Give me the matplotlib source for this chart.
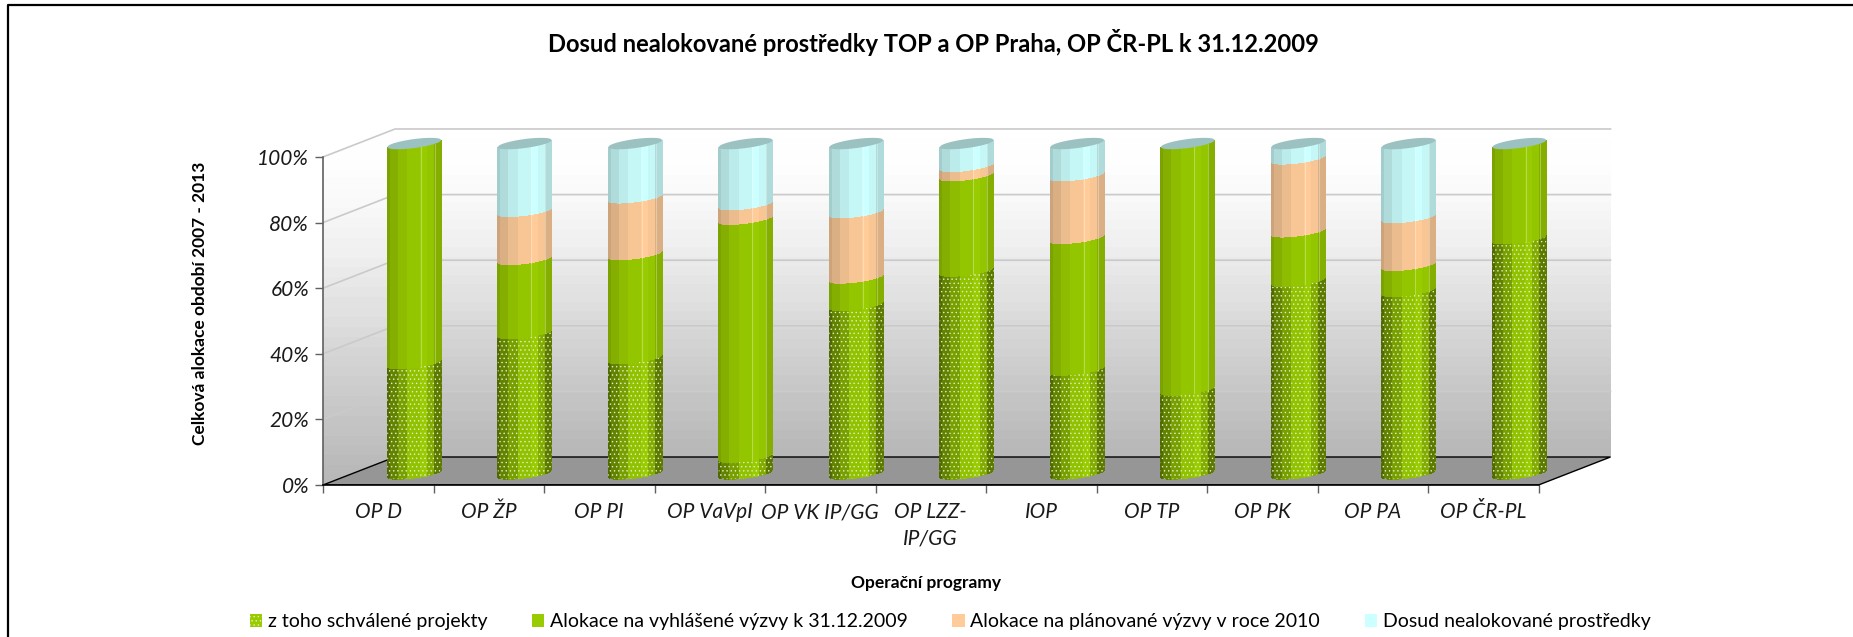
"""Dosud nealokované prostředky - 3D-look stacked cylinders, drawn on a plain axes."""

import matplotlib

matplotlib.use("Agg")
import matplotlib.pyplot as plt
import numpy as np
from matplotlib.colors import LinearSegmentedColormap, to_rgb
from matplotlib.patches import Patch, Polygon

plt.rcParams["font.family"] = ["Lato", "DejaVu Sans"]
plt.rcParams["hatch.linewidth"] = 0.5

TITLE = "Dosud nealokované prostředky TOP a OP Praha, OP ČR-PL k 31.12.2009"
XLABEL = "Operační programy"
YLABEL = "Celková alokace období 2007 - 2013"

programs = ["OP D", "OP ŽP", "OP PI", "OP VaVpI", "OP VK IP/GG", "OP LZZ-\nIP/GG",
            "IOP", "OP TP", "OP PK", "OP PA", "OP ČR-PL"]
series_names = ["z toho schválené projekty", "Alokace na vyhlášené výzvy k 31.12.2009",
                "Alokace na plánované výzvy v roce 2010", "Dosud nealokované prostředky"]

schvalene = [33.5, 42.6, 35.0, 5.1, 51.1, 61.5, 31.5, 25.4, 58.4, 55.4, 71.3]
vyhlasene = [66.5, 22.4, 31.5, 72.1, 8.3, 28.9, 39.9, 74.6, 15.0, 7.8, 28.7]
planovane = [0.0, 14.6, 17.2, 4.4, 19.8, 2.8, 19.0, 0.0, 22.1, 14.5, 0.0]
nealokovane = [0.0, 20.4, 16.3, 18.4, 20.8, 6.8, 9.6, 0.0, 4.5, 22.3, 0.0]

colors = ["#99CC00", "#99CC00", "#FFCC99", "#CCFFFF"]
cap_color = "#9BC1C1"
dot_color = "#E4EBC8"

# oblique projection of the 3D box, in data units (categories / percent)
DEPTH_X = 72 / 110.5
DEPTH_Y = 28 / 3.28
BAR_W = 54 / 110.5
TILT = 7 / 3.28
BULGE = 4.5 / 3.28
BAR_SCALE = 1.006

# strip edges across the cylinder and their brightness
strip_edges = [0, 0.06, 0.2, 0.38, 0.62, 0.75, 0.88, 1.0]
strip_shade = [0.80, 0.86, 0.92, 0.97, 1.0, 0.97, 0.86]
dotted_shade = [0.52, 0.64, 0.78, 0.95, 1.0, 0.85, 0.60]


def edge_y(base, t, sign=1):
    """y of a cut through the cylinder, t in 0..1 across the bar."""
    return base - TILT * (0.5 - t) - sign * BULGE * np.sqrt(np.clip(1 - (2 * t - 1) ** 2, 0, 1))


def shaded(color, k):
    return tuple(c * k for c in to_rgb(color))


fig = plt.figure(figsize=(18.53, 6.37), dpi=100, facecolor="white")
W, H = 1853, 637
left, right, top, bottom = 323, 1612, 128, 485
ax = fig.add_axes([left / W, 1 - bottom / H, (right - left) / W, (bottom - top) / H])
ax.patch.set_visible(False)

n = len(programs)

# walls
wall_cmap = LinearSegmentedColormap.from_list(
    "wall", [(0, "#FFFFFF"), (0.1, "#FEFEFE"), (0.3, "#F3F3F3"), (0.5, "#E2E2E2"),
             (0.7, "#D0D0D0"), (1, "#B8B8B8")], N=64)
grad = np.linspace(0, 1, 36)[:, None]
back = ax.imshow(grad, cmap=wall_cmap, aspect="auto", zorder=1, interpolation="nearest",
                 extent=[DEPTH_X, n + DEPTH_X, DEPTH_Y, 100 + DEPTH_Y])
side = ax.imshow(grad, cmap=wall_cmap, aspect="auto", zorder=1, interpolation="nearest",
                 extent=[0, DEPTH_X, 0, 100 + DEPTH_Y])
side_poly = Polygon([(0, 0), (DEPTH_X, DEPTH_Y), (DEPTH_X, 100 + DEPTH_Y), (0, 100)],
                    transform=ax.transData, fc="none", ec="none")
ax.add_patch(side_poly)
side.set_clip_path(side_poly)
ax.set_xlim(0, (right - left) / 110.5)
ax.set_ylim(0, (bottom - top) / 3.28)

for v in range(20, 101, 20):
    ax.plot([0, DEPTH_X, n + DEPTH_X], [v, v + DEPTH_Y, v + DEPTH_Y], color="#CACACA", lw=1.2,
            zorder=2, solid_joinstyle="miter")

ax.add_patch(Polygon([(0, 0), (DEPTH_X, DEPTH_Y), (n + DEPTH_X, DEPTH_Y), (n, 0)],
                     fc="#969696", ec="black", lw=1.0, zorder=3))

# cylinders
stack = [schvalene, vyhlasene, planovane, nealokovane]
tt = np.linspace(0, 1, 41)
for i in range(n):
    x0 = i + 0.5 + DEPTH_X / 2 - BAR_W / 2
    y0 = DEPTH_Y * 0.41
    low = 0.0
    for s, vals in enumerate(stack):
        h = vals[i]
        if h <= 0:
            continue
        high = low + h
        shades = dotted_shade if s == 0 else strip_shade
        for a, b, k in zip(strip_edges[:-1], strip_edges[1:], shades):
            t = tt[(tt >= a - 1e-9) & (tt <= b + 1e-9)]
            if t[0] > a:
                t = np.r_[a, t]
            if t[-1] < b:
                t = np.r_[t, b]
            xs = x0 + t * BAR_W
            lo = edge_y(y0 + low * BAR_SCALE, t)
            hi = edge_y(y0 + high * BAR_SCALE, t)
            pts = np.r_[np.c_[xs, lo], np.c_[xs[::-1], hi[::-1]]]
            ax.add_patch(Polygon(pts, fc=shaded(colors[s], k), ec="none", lw=0, zorder=5 + s,
                                 antialiased=False))
            if s == 0:
                ax.add_patch(Polygon(pts, fc="none", ec=dot_color, lw=0, hatch="....", zorder=5.5))
        # faint highlights on the plain segments
        if s > 0:
            for a in (0.62, 0.88):
                ax.plot([x0 + a * BAR_W] * 2,
                        [edge_y(y0 + low * BAR_SCALE, a), edge_y(y0 + high * BAR_SCALE, a)],
                        color="white", alpha=0.3, lw=0.8, zorder=5 + s + 0.5)
        low = high
    # top cap
    xs = x0 + tt * BAR_W
    front = edge_y(y0 + low * BAR_SCALE, tt)
    rear = edge_y(y0 + low * BAR_SCALE, tt, sign=-1)
    cap = np.r_[np.c_[xs, front], np.c_[xs[::-1], rear[::-1]]]
    ax.add_patch(Polygon(cap, fc=cap_color, ec="none", lw=0, zorder=10))

# axes, ticks, labels
for name in ("top", "right"):
    ax.spines[name].set_visible(False)
ax.spines["left"].set_bounds(0, 100)
ax.spines["bottom"].set_bounds(0, n)
ax.spines["left"].set_color("#606060")
ax.spines["left"].set_linewidth(1.2)
ax.spines["bottom"].set_color("black")
ax.spines["bottom"].set_linewidth(1.2)
ax.spines["left"].set_zorder(12)
ax.spines["bottom"].set_zorder(12)

ax.set_yticks(range(0, 101, 20))
ax.set_yticklabels([f"{v}%" for v in range(0, 101, 20)], fontsize=15, style="italic", color="#1a1a1a")
ax.tick_params(axis="y", length=6, width=1.0, color="#606060", pad=4)
ax.set_xticks(np.arange(n + 1))
ax.set_xticklabels([])
ax.set_xticks(np.arange(n) + 0.5, labels=programs, minor=True, fontsize=15, style="italic",
              color="#1a1a1a", linespacing=1.35)
ax.tick_params(axis="x", which="major", length=6, width=1.0, color="#606060")
ax.tick_params(axis="x", which="minor", length=0, pad=12.6)

fig.text(933 / W, 1 - 42 / H, TITLE, ha="center", va="center", fontsize=17.1, fontweight="bold")
fig.text(926 / W, 1 - 583 / H, XLABEL, ha="center", va="center", fontsize=12.5, fontweight="bold")
fig.text(200 / W, 1 - 303 / H, YLABEL, ha="center", va="center", rotation=90, fontsize=12.5,
         fontweight="bold")

handles = [
    Patch(fc=colors[0], ec=dot_color, lw=0, hatch="...."),
    Patch(fc=colors[1], ec="none"),
    Patch(fc=colors[2], ec="none"),
    Patch(fc=colors[3], ec="none"),
]
fig.legend(handles, series_names, ncol=4, frameon=False, fontsize=14, loc="center",
           bbox_to_anchor=(950 / W, 1 - 622 / H), handlelength=0.64, handleheight=0.64,
           handletextpad=0.28, columnspacing=2.3)

# chart border: left and top edge only, the others are cropped away
fig.add_artist(plt.Line2D([8 / W, 8 / W, 1 + 5 / W], [0, 1 - 5 / H, 1 - 5 / H], color="black", lw=1.6))

fig.savefig("out.png", dpi=100)
